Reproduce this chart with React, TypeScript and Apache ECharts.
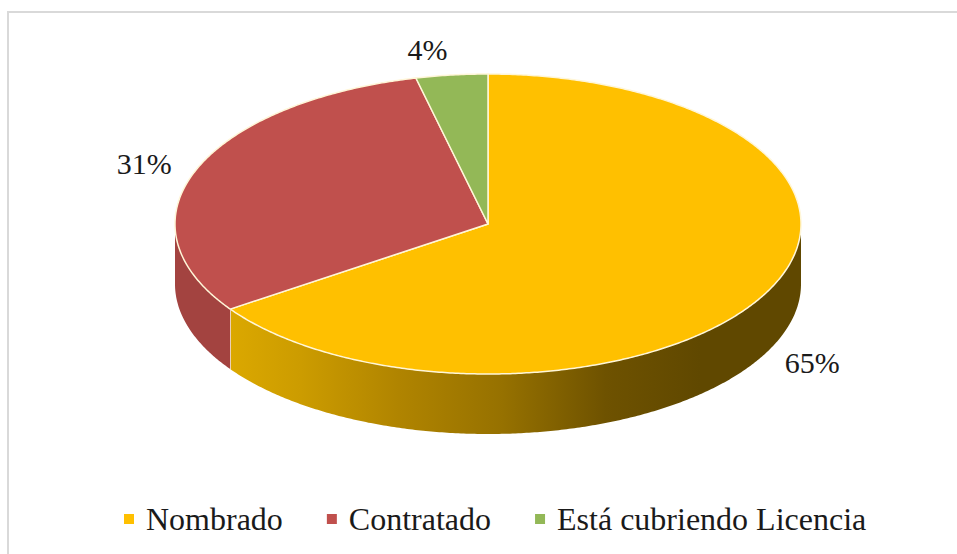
import React, { useEffect, useRef } from "react";
import * as echarts from "echarts";

const categories = ["Nombrado", "Contratado", "Está cubriendo Licencia"];
const shareValues = [65.4, 30.9, 3.7];
const topColors = ["#ffc000", "#c0504d", "#93b857"];
const wallColors = ["#d9a600", "#a34340", "#7c9647"];

const FONT = '"Liberation Serif", "Times New Roman", serif';
const CX = 488;
const CY = 224;
const RX = 313;
const RY = 150;
const DEPTH = 60;
const LABEL_K = 1.17;
const labelNudge = [
  [0, -3],
  [-2, 3],
  [-18, 0],
];

const total = shareValues.reduce((a, b) => a + b, 0);

const pt = (deg: number, dy = 0): number[] => {
  const r = (deg * Math.PI) / 180;
  return [CX + RX * Math.sin(r), CY - RY * Math.cos(r) + dy];
};

const arc = (from: number, to: number, dy = 0): number[][] => {
  const steps = Math.max(2, Math.ceil(Math.abs(to - from) * 2));
  const out: number[][] = [];
  for (let i = 0; i <= steps; i++) out.push(pt(from + ((to - from) * i) / steps, dy));
  return out;
};

const wallFill = (idx: number): any =>
  idx === 0
    ? {
        type: "linear",
        global: true,
        x: 230,
        y: 0,
        x2: 700,
        y2: 0,
        colorStops: [
          { offset: 0, color: "#dba800" },
          { offset: 0.15, color: "#cc9c00" },
          { offset: 0.36, color: "#b08400" },
          { offset: 0.58, color: "#967100" },
          { offset: 0.8, color: "#6e5200" },
          { offset: 1, color: "#604800" },
        ],
      }
    : wallColors[idx];

const renderSlice = (idx: number) => (_params: any, api: any) => {
  const value = api.value(0);
  const before = shareValues.slice(0, idx).reduce((a, b) => a + b, 0);
  const start = (before / total) * 360;
  const end = start + (value / total) * 360;
  const mid = (start + end) / 2;
  const children: any[] = [];

  const wallFrom = Math.max(start, 90);
  const wallTo = Math.min(end, 270);
  if (wallTo > wallFrom) {
    children.push({
      type: "polygon",
      shape: { points: [...arc(wallFrom, wallTo), ...arc(wallTo, wallFrom, DEPTH)] },
      style: { fill: wallFill(idx), stroke: null },
    });
    if (end < 270) {
      const a = pt(end);
      const b = pt(end, DEPTH);
      children.push({
        type: "line",
        shape: { x1: a[0], y1: a[1], x2: b[0], y2: b[1] },
        style: { stroke: "#fff8e0", lineWidth: 1.5 },
      });
    }
  }

  children.push({
    type: "polygon",
    shape: { points: [[CX, CY], ...arc(start, end)] },
    style: { fill: topColors[idx], stroke: "#fff6d8", lineWidth: 1.5, lineJoin: "round" },
  });

  const r = (mid * Math.PI) / 180;
  const lift = mid > 90 && mid < 270 ? DEPTH : 0;
  children.push({
    type: "text",
    x: CX + LABEL_K * RX * Math.sin(r) + labelNudge[idx][0],
    y: CY - LABEL_K * RY * Math.cos(r) + lift + labelNudge[idx][1],
    style: {
      text: `${Math.round(value)}%`,
      fontFamily: FONT,
      fontSize: 30,
      fill: "#1a1a1a",
      align: "center",
      verticalAlign: "middle",
    },
  });

  return { type: "group", children };
};

export default function App() {
  const ref = useRef<HTMLDivElement>(null);

  useEffect(() => {
    document.body.style.margin = "0";
    document.body.style.overflow = "hidden";
    const chart = echarts.init(ref.current!, undefined, { renderer: "svg" });
    chart.setOption({
      animation: false,
      backgroundColor: "#ffffff",
      graphic: [
        {
          type: "rect",
          silent: true,
          z: -1,
          shape: { x: 8, y: 12, width: 960, height: 560 },
          style: { fill: "#ffffff", stroke: "#d9d9d9", lineWidth: 2 },
        },
      ],
      legend: {
        left: 124,
        top: 503,
        padding: 0,
        icon: "rect",
        itemWidth: 10,
        itemHeight: 10,
        itemGap: 44,
        data: categories,
        textStyle: { fontFamily: FONT, fontSize: 32, color: "#1a1a1a", padding: [0, 0, 0, 7] },
        selectedMode: false,
      },
      series: categories.map((name, idx) => ({
        type: "custom",
        name,
        coordinateSystem: "none",
        silent: true,
        itemStyle: { color: topColors[idx] },
        renderItem: renderSlice(idx),
        data: [[shareValues[idx]]],
      })),
    });
    return () => chart.dispose();
  }, []);

  return <div ref={ref} style={{ position: "absolute", left: 0, top: 0, width: 957, height: 554 }} />;
}
